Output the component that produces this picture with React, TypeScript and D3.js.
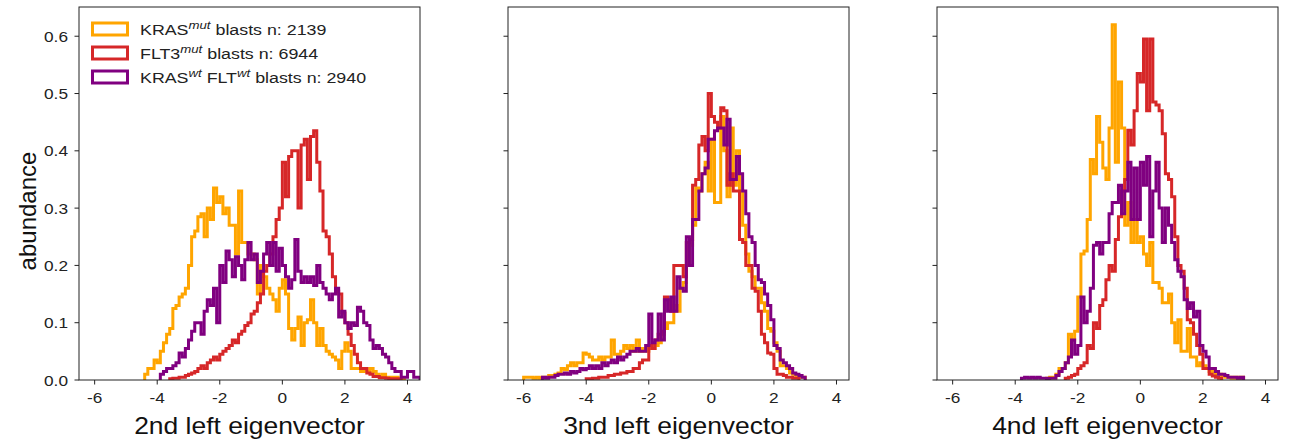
import React from "react";
import * as d3 from "d3";

// ---- data (bin width 0.1) ----
const BIN = 0.1;
const xTicks = [-6, -4, -2, 0, 2, 4];
const yTicks = [0, 0.1, 0.2, 0.3, 0.4, 0.5, 0.6];
const axisLabels = ["2nd left eigenvector", "3nd left eigenvector", "4nd left eigenvector"];
const seriesColors = ["#FFA500", "#D62728", "#800080"];

const eig2KrasStart = -4.4;
const eig2Kras = [0.01,0.02,0.02,0.035,0.03,0.05,0.065,0.08,0.09,0.125,0.13,0.145,0.15,0.16,0.2,0.25,0.26,0.285,0.29,0.25,0.3,0.28,0.335,0.31,0.32,0.29,0.3,0.27,0.27,0.22,0.33,0.24,0.24,0.22,0.22,0.21,0.15,0.2,0.18,0.16,0.15,0.14,0.12,0.16,0.175,0.15,0.09,0.07,0.09,0.11,0.06,0.1,0.105,0.14,0.1,0.06,0.09,0.06,0.05,0.045,0.04,0.035,0.02,0.05,0.065,0.05,0.02,0.02,0.02,0.015,0.02,0.015,0.02,0.015,0.01,0.005,0.01,0.005,0.005,0.005,0.005,0.003,0.003];
const eig2Flt3Start = -3.6;
const eig2Flt3 = [0.002,0.003,0.003,0.005,0.005,0.008,0.01,0.012,0.015,0.02,0.025,0.02,0.03,0.035,0.04,0.035,0.045,0.05,0.055,0.06,0.07,0.065,0.08,0.085,0.095,0.1,0.115,0.12,0.135,0.15,0.19,0.2,0.22,0.25,0.28,0.3,0.38,0.32,0.39,0.4,0.4,0.3,0.41,0.42,0.35,0.425,0.435,0.38,0.33,0.26,0.25,0.22,0.18,0.155,0.15,0.117,0.1,0.08,0.06,0.045,0.03,0.02,0.02,0.012,0.01,0.006,0.006,0.004,0.004,0.003,0.002,0.002,0.002,0.001];
const eig2WtStart = -3.9;
const eig2Wt = [0.01,0.015,0.02,0.02,0.025,0.03,0.047,0.04,0.055,0.07,0.085,0.1,0.1,0.08,0.12,0.14,0.13,0.16,0.1,0.2,0.17,0.225,0.21,0.18,0.215,0.2,0.175,0.21,0.24,0.21,0.22,0.17,0.19,0.22,0.24,0.2,0.24,0.19,0.23,0.2,0.18,0.16,0.175,0.245,0.19,0.17,0.18,0.17,0.18,0.165,0.2,0.17,0.16,0.15,0.14,0.15,0.16,0.11,0.12,0.1,0.09,0.1,0.095,0.127,0.12,0.1,0.095,0.07,0.055,0.06,0.055,0.045,0.04,0.03,0.02,0.015,0.015,0.005,0.005,0.015,0.015,0.005,0.005];

const eig3KrasStart = -6.0;
const eig3Kras = [0.005,0.005,0.005,0.003,0.005,0.003,0.005,0.005,0.008,0.008,0.01,0.012,0.02,0.018,0.025,0.03,0.025,0.03,0.03,0.047,0.045,0.04,0.035,0.035,0.04,0.035,0.04,0.04,0.07,0.045,0.045,0.05,0.06,0.055,0.06,0.05,0.07,0.05,0.055,0.05,0.06,0.055,0.06,0.065,0.08,0.09,0.1,0.1,0.13,0.12,0.16,0.17,0.2,0.235,0.27,0.335,0.33,0.36,0.38,0.33,0.42,0.31,0.31,0.46,0.4,0.32,0.44,0.34,0.4,0.33,0.27,0.22,0.19,0.18,0.16,0.16,0.135,0.12,0.09,0.085,0.065,0.05,0.025,0.025,0.02,0.012,0.01,0.008,0.005,0.005];
const eig3Flt3Start = -4.0;
const eig3Flt3 = [0.002,0.002,0.003,0.003,0.005,0.005,0.005,0.008,0.008,0.01,0.01,0.012,0.012,0.015,0.015,0.02,0.02,0.03,0.035,0.035,0.06,0.055,0.07,0.08,0.085,0.145,0.14,0.12,0.2,0.2,0.2,0.18,0.24,0.245,0.34,0.35,0.41,0.425,0.4,0.5,0.46,0.45,0.44,0.475,0.47,0.34,0.36,0.33,0.33,0.245,0.24,0.2,0.2,0.16,0.155,0.12,0.08,0.065,0.047,0.045,0.02,0.01,0.01,0.008,0.005,0.005,0.003,0.003];
const eig3WtStart = -5.4;
const eig3Wt = [0.005,0.003,0.005,0.005,0.008,0.01,0.01,0.012,0.01,0.015,0.012,0.015,0.02,0.018,0.02,0.025,0.02,0.025,0.02,0.03,0.025,0.03,0.035,0.03,0.04,0.035,0.04,0.045,0.05,0.05,0.055,0.05,0.05,0.06,0.115,0.065,0.07,0.115,0.07,0.14,0.12,0.145,0.12,0.18,0.16,0.155,0.25,0.2,0.28,0.28,0.33,0.36,0.37,0.42,0.42,0.435,0.44,0.44,0.41,0.455,0.35,0.35,0.39,0.36,0.33,0.29,0.25,0.24,0.2,0.175,0.17,0.15,0.13,0.105,0.06,0.055,0.035,0.03,0.025,0.02,0.012,0.01,0.008,0.005];

const eig4KrasStart = -3.0;
const eig4Kras = [0.003,0.005,0.005,0.01,0.02,0.02,0.03,0.08,0.07,0.085,0.145,0.22,0.225,0.28,0.385,0.36,0.46,0.415,0.37,0.35,0.44,0.62,0.38,0.52,0.44,0.27,0.31,0.24,0.28,0.24,0.25,0.22,0.2,0.24,0.17,0.17,0.16,0.135,0.135,0.15,0.1,0.065,0.105,0.05,0.05,0.09,0.04,0.04,0.025,0.03,0.025,0.02,0.015,0.015,0.01,0.01,0.008,0.005,0.005,0.003,0.005,0.003,0.005];
const eig4Flt3Start = -2.4;
const eig4Flt3 = [0.003,0.005,0.008,0.01,0.02,0.025,0.03,0.06,0.055,0.1,0.09,0.13,0.14,0.175,0.2,0.19,0.245,0.285,0.33,0.35,0.436,0.41,0.47,0.535,0.52,0.595,0.47,0.595,0.485,0.48,0.47,0.43,0.36,0.35,0.32,0.25,0.2,0.19,0.16,0.105,0.1,0.08,0.06,0.045,0.02,0.02,0.01,0.007,0.005,0.003];
const eig4WtStart = -3.8;
const eig4Wt = [0.003,0.005,0.003,0.005,0.003,0.005,0.003,0.003,0.002,0.003,0.003,0.008,0.015,0.02,0.03,0.04,0.07,0.045,0.06,0.145,0.1,0.12,0.16,0.235,0.24,0.22,0.24,0.24,0.29,0.31,0.31,0.34,0.29,0.33,0.38,0.28,0.37,0.28,0.38,0.34,0.39,0.25,0.33,0.38,0.3,0.24,0.3,0.27,0.24,0.21,0.19,0.18,0.14,0.125,0.135,0.11,0.12,0.06,0.05,0.04,0.02,0.02,0.015,0.01,0.01,0.008,0.005,0.005,0.005,0.003,0.005];

const panels = [
  { label: axisLabels[0], series: [[eig2KrasStart, eig2Kras], [eig2Flt3Start, eig2Flt3], [eig2WtStart, eig2Wt]] },
  { label: axisLabels[1], series: [[eig3KrasStart, eig3Kras], [eig3Flt3Start, eig3Flt3], [eig3WtStart, eig3Wt]] },
  { label: axisLabels[2], series: [[eig4KrasStart, eig4Kras], [eig4Flt3Start, eig4Flt3], [eig4WtStart, eig4Wt]] },
];

// ---- layout ----
const WIDTH = 1296;
const HEIGHT = 442;
const PANEL_LEFTS = [79, 508, 937];
const PANEL_W = 341;
const TOP = 7;
const BOTTOM = 380;
const FONT = "'Liberation Sans', Arial, Helvetica, sans-serif";
const AXIS = "#222";
const SX = 1.15; // horizontal stretch of the reference's text

function stepPath(start: number, vals: number[], x: any, y: any) {
  const p = d3.path();
  const s = Math.round(start / BIN);
  const edge = (i: number) => x((s + i) * BIN);
  p.moveTo(edge(0), y(0));
  vals.forEach((v, i) => {
    p.lineTo(edge(i), y(v));
    p.lineTo(edge(i + 1), y(v));
  });
  p.lineTo(edge(vals.length), y(0));
  return p.toString();
}

function SText({ x, y, anchor, size, children, fill = "#222" }: any) {
  return (
    <text transform={`translate(${x},${y}) scale(${SX},1)`} textAnchor={anchor} fontSize={size} fontFamily={FONT} fill={fill}>
      {children}
    </text>
  );
}

function Panel({ idx }: { idx: number }) {
  const left = PANEL_LEFTS[idx];
  const x = d3.scaleLinear().domain([-6.5, 4.4]).range([left, left + PANEL_W]);
  const y = d3.scaleLinear().domain([0, 0.651]).range([BOTTOM, TOP]);
  const panel = panels[idx];
  const clipId = `clip${idx}`;
  return (
    <g>
      <defs>
        <clipPath id={clipId}>
          <rect x={left} y={TOP} width={PANEL_W} height={BOTTOM - TOP} />
        </clipPath>
      </defs>
      <g clipPath={`url(#${clipId})`} fill="none" strokeWidth={3} strokeLinejoin="miter">
        {panel.series.map(([start, vals], i) => (
          <path key={i} d={stepPath(start as number, vals as number[], x, y)} stroke={seriesColors[i]} />
        ))}
      </g>
      <rect x={left} y={TOP} width={PANEL_W} height={BOTTOM - TOP} fill="none" stroke={AXIS} strokeWidth={1} />
      {xTicks.map((t) => (
        <g key={t}>
          <line x1={x(t)} x2={x(t)} y1={BOTTOM} y2={BOTTOM + 4.5} stroke={AXIS} strokeWidth={1} />
          <SText x={x(t)} y={BOTTOM + 23} anchor="middle" size={15}>
            {t < 0 ? `-${Math.abs(t)}` : t}
          </SText>
        </g>
      ))}
      {yTicks.map((t) => (
        <g key={t}>
          <line x1={left - 4.5} x2={left} y1={y(t)} y2={y(t)} stroke={AXIS} strokeWidth={1} />
          {idx === 0 && (
            <SText x={left - 11} y={y(t) + 5.5} anchor="end" size={15}>
              {t.toFixed(1)}
            </SText>
          )}
        </g>
      ))}
      <SText x={left + PANEL_W / 2} y={434} anchor="middle" size={23} fill="#111">
        {panel.label}
      </SText>
    </g>
  );
}

const legendRows = [
  [["KRAS", ""], ["mut", "sup"], [" blasts n: 2139", ""]],
  [["FLT3", ""], ["mut", "sup"], [" blasts n: 6944", ""]],
  [["KRAS", ""], ["wt", "sup"], [" FLT", ""], ["wt", "sup"], [" blasts n: 2940", ""]],
];

function Legend() {
  return (
    <g>
      {legendRows.map((parts, i) => {
        const cy = 29 + i * 24;
        return (
          <g key={i}>
            <rect x={92.5} y={cy - 6} width={35} height={12} fill="none" stroke={seriesColors[i]} strokeWidth={3} />
            <SText x={140} y={cy + 5.5} anchor="start" size={15.5}>
              {parts.map(([s, k], j) =>
                k === "sup" ? (
                  <tspan key={j} dy={-6} fontSize={11.5} fontStyle="italic">{s}</tspan>
                ) : (
                  <tspan key={j} dy={j === 0 ? 0 : 6}>{s}</tspan>
                )
              )}
            </SText>
          </g>
        );
      })}
    </g>
  );
}

export default function App() {
  return (
    <svg width={WIDTH} height={HEIGHT} style={{ position: "absolute", left: 0, top: 0, background: "#fff" }}>
      {[0, 1, 2].map((i) => <Panel key={i} idx={i} />)}
      <Legend />
      <text transform={`translate(36, 211) rotate(-90)`} textAnchor="middle" fontSize={24} fontFamily={FONT} fill="#111">
        abundance
      </text>
    </svg>
  );
}
